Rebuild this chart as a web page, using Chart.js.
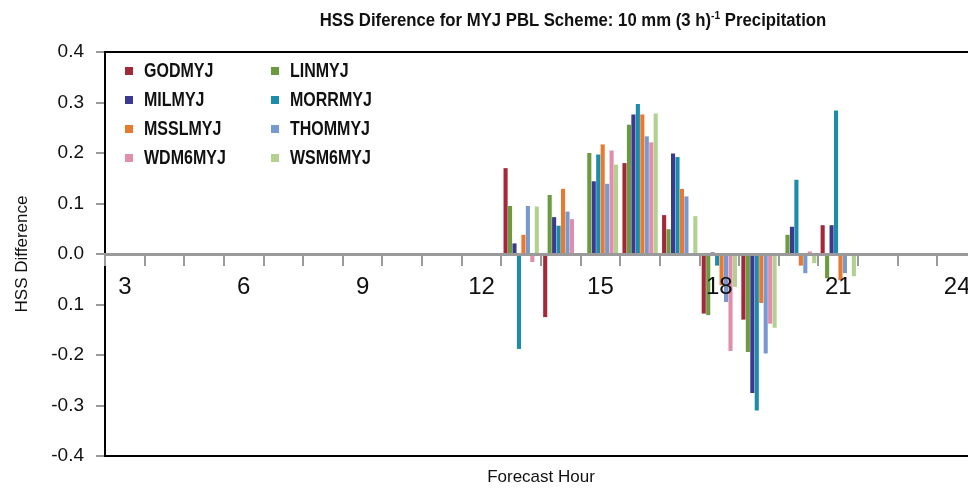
<!DOCTYPE html>
<html>
<head>
<meta charset="utf-8">
<script src="https://cdn.jsdelivr.net/npm/chart.js@4.4.1/dist/chart.umd.min.js"></script>
<style>
  body { margin: 0; background: #fff; overflow: hidden; }
  #wrap { position: relative; width: 968px; height: 497px; overflow: hidden; }
  #title {
    position: absolute; top: 9px; left: 573px; transform: translateX(-50%) scaleX(0.93);
    white-space: nowrap; font: bold 18px 'Liberation Sans', sans-serif; color: #111;
  }
  #title sup { font-size: 11px; }
  canvas { position: absolute; left: 0; top: 0; }
</style>
</head>
<body>
<div id="wrap">
  <canvas id="myChart" width="985" height="497"></canvas>
  <div id="title">HSS Diference for MYJ PBL Scheme: 10 mm (3 h)<sup>-1</sup> Precipitation</div>
</div>
<script>
// Heures de prévision (catégories)
const hours = [3, 4, 5, 6, 7, 8, 9, 10, 11, 12, 13, 14, 15, 16, 17, 18, 19, 20, 21, 22, 23, 24];

// Différences HSS par schéma
const godmyj  = [0, 0, 0, 0, 0, 0, 0, 0, 0, 0, 0.170, -0.125, 0.000, 0.180, 0.077, -0.118, -0.130, 0.000, 0.057, 0, 0, 0];
const linmyj  = [0, 0, 0, 0, 0, 0, 0, 0, 0, 0, 0.095, 0.117, 0.200, 0.256, 0.049, -0.121, -0.194, 0.038, -0.048, 0, 0, 0];
const milmyj  = [0, 0, 0, 0, 0, 0, 0, 0, 0, 0, 0.021, 0.073, 0.144, 0.276, 0.199, 0.003, -0.275, 0.054, 0.057, 0, 0, 0];
const morrmyj = [0, 0, 0, 0, 0, 0, 0, 0, 0, 0, -0.188, 0.056, 0.197, 0.297, 0.192, -0.023, -0.310, 0.147, 0.284, 0, 0, 0];
const msslmyj = [0, 0, 0, 0, 0, 0, 0, 0, 0, 0, 0.038, 0.129, 0.217, 0.276, 0.129, -0.062, -0.097, -0.023, -0.052, 0, 0, 0];
const thommyj = [0, 0, 0, 0, 0, 0, 0, 0, 0, 0, 0.095, 0.084, 0.139, 0.233, 0.114, -0.095, -0.197, -0.038, -0.038, 0, 0, 0];
const wdm6myj = [0, 0, 0, 0, 0, 0, 0, 0, 0, 0, -0.016, 0.069, 0.205, 0.221, 0.002, -0.192, -0.138, 0.005, 0.000, 0, 0, 0];
const wsm6myj = [0, 0, 0, 0, 0, 0, 0, 0, 0, 0, 0.094, 0.000, 0.177, 0.278, 0.075, -0.065, -0.146, -0.018, -0.044, 0, 0, 0];

// Étiquettes de l'axe Y (telles qu'affichées sur la figure d'origine)
const yTickLabels = ['-0.4', '-0.3', '-0.2', '0.1', '0.0', '0.1', '0.2', '0.3', '0.4'];

const seriesNames = ['GODMYJ', 'LINMYJ', 'MILMYJ', 'MORRMYJ', 'MSSLMYJ', 'THOMMYJ', 'WDM6MYJ', 'WSM6MYJ'];
const seriesData = [godmyj, linmyj, milmyj, morrmyj, msslmyj, thommyj, wdm6myj, wsm6myj];
const seriesColors = ['#a3283a', '#6b9a3f', '#3b3a8f', '#1b8dab', '#e77a30', '#7899cf', '#e08ea9', '#b2d08f'];

const sans = "'Liberation Sans', sans-serif";

// Cadre noir autour de la zone du graphique + légende dans le graphique
const framePlugin = {
    id: 'frame',
    afterDraw(chart) {
        const { ctx, chartArea } = chart;
        ctx.save();
        ctx.strokeStyle = '#000';
        ctx.lineWidth = 2;
        ctx.beginPath();
        ctx.moveTo(chartArea.left, chartArea.top);
        ctx.lineTo(chartArea.right, chartArea.top);
        ctx.moveTo(chartArea.left, chartArea.bottom);
        ctx.lineTo(chartArea.right, chartArea.bottom);
        ctx.stroke();

        // Légende sur deux colonnes (texte resserré comme la police d'origine)
        ctx.font = 'bold 20px ' + sans;
        ctx.textBaseline = 'middle';
        chart.data.datasets.forEach((ds, i) => {
            const col = i % 2;
            const row = Math.floor(i / 2);
            const x = 125 + col * 146;
            const y = 71 + row * 29;
            ctx.fillStyle = ds.backgroundColor;
            ctx.fillRect(x, y - 4, 8, 8);
            ctx.save();
            ctx.translate(x + 19, y);
            ctx.scale(0.8, 1);
            ctx.fillStyle = '#111';
            ctx.fillText(ds.label, 0, 0);
            ctx.restore();
        });
        ctx.restore();
    }
};

const ctx = document.getElementById('myChart').getContext('2d');
const myChart = new Chart(ctx, {
    type: 'bar',
    data: {
        labels: hours,
        datasets: seriesNames.map((name, i) => ({
            label: name,
            data: seriesData[i],
            backgroundColor: seriesColors[i],
            xAxisID: 'x',
            categoryPercentage: 0.9,
            barPercentage: 0.92,
        })),
    },
    options: {
        responsive: false,
        animation: false,
        layout: { padding: { left: 0, top: 52, right: 8, bottom: 0 } },
        plugins: {
            legend: { display: false },
            tooltip: { enabled: false },
        },
        scales: {
            x: {
                type: 'category',
                position: { y: 0 },
                grid: {
                    drawOnChartArea: false,
                    offset: true,
                    tickLength: 10,
                    color: '#9a9a9a',
                    lineWidth: 2,
                    z: 1,
                },
                border: { color: '#9a9a9a', width: 3, z: 1 },
                ticks: {
                    autoSkip: false,
                    maxRotation: 0,
                    padding: 9,
                    color: '#111',
                    z: 1,
                    font: { family: sans, size: 24 },
                    callback: function (value) {
                        const h = this.getLabelForValue(value);
                        return h % 3 === 0 ? String(h) : '';
                    },
                },
            },
            x2: {
                type: 'category',
                position: 'bottom',
                grid: { display: false },
                border: { display: false },
                ticks: { display: false },
                title: {
                    display: true,
                    text: 'Forecast Hour',
                    color: '#111',
                    font: { family: sans, size: 17 },
                    padding: { top: 0, bottom: 9 },
                },
                afterFit(scale) { scale.height = 41; },
            },
            y: {
                min: -0.4,
                max: 0.4,
                grid: {
                    drawOnChartArea: false,
                    tickLength: 9,
                    color: '#9a9a9a',
                    lineWidth: 2,
                },
                border: { color: '#000', width: 2 },
                ticks: {
                    stepSize: 0.1,
                    padding: 12,
                    color: '#111',
                    font: { family: sans, size: 19 },
                    callback: (value, index) => yTickLabels[index],
                },
                title: {
                    display: true,
                    text: 'HSS Difference',
                    color: '#111',
                    font: { family: sans, size: 17 },
                    padding: { top: 12, bottom: 0 },
                },
                afterFit(scale) { scale.width = 105; },
            },
        },
    },
    plugins: [framePlugin],
});
</script>
</body>
</html>
